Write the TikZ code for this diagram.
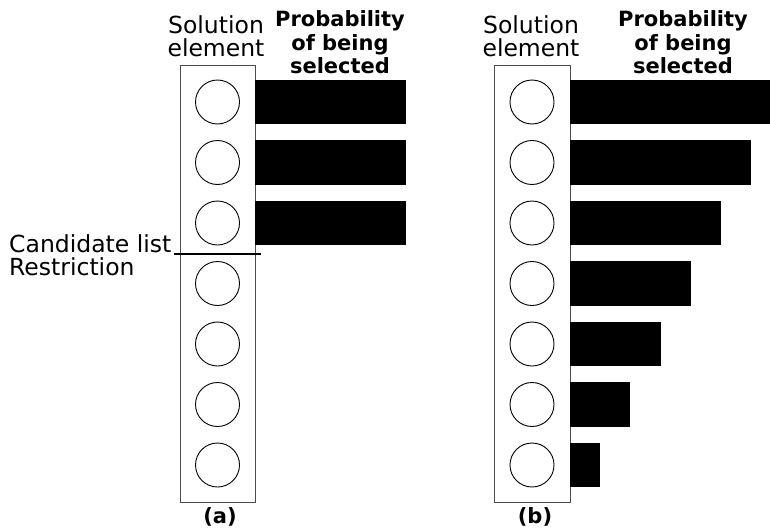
\documentclass[tikz,border=0pt]{standalone}
\usepackage{fontspec}
\setmainfont{DejaVu Sans}
\begin{document}
\begin{tikzpicture}[x=1pt,y=-1pt,
  txt/.style={inner sep=0pt,anchor=base,font=\fontsize{23.5}{25}\selectfont},
  ltxt/.style={inner sep=0pt,anchor=base west,font=\fontsize{23.5}{25}\selectfont},
  btxt/.style={inner sep=0pt,anchor=base,font=\fontsize{21}{23}\selectfont\bfseries},
  column/.style={draw=black!70,line width=1pt},
  elem/.style={draw=black,line width=0.9pt,circle,minimum size=44pt,inner sep=0pt},
  bar/.style={fill=black},
  cut/.style={draw=black,line width=2pt}]
\useasboundingbox (0,0) rectangle (770,527);
% column (a)
\draw[column] (180,65) rectangle (255,502);
\foreach \k in {0,...,6} {
  \node[elem] (a\k) at (217.5,{102+60.5*\k}) {};
}
\foreach \k in {0,1,2} {
  \fill[bar] (255,{102+60.5*\k-22.3}) rectangle (406,{102+60.5*\k+22.3});
}
\coordinate (cutL) at (174,254);
\coordinate (cutR) at (261,254);
\draw[cut] (cutL) -- (cutR);
\node[ltxt] (cl1) at (9,252) {Candidate list};
\node[ltxt] (cl2) at (9,275) {Restriction};
\node[txt] (sa1) at (216,33.5) {Solution};
\node[txt] (sa2) at (216,56.5) {element};
\node[btxt] (pa1) at (340,27) {Probability};
\node[btxt] (pa2) at (340,50) {of being};
\node[btxt] (pa3) at (340,73) {selected};
\node[btxt] (la) at (220,523) {(a)};
% column (b)
\draw[column] (494,65) rectangle (570,502);
\foreach \k in {0,...,6} {
  \node[elem] (b\k) at (532,{102+60.5*\k}) {};
}
\foreach \k/\w in {0/210,1/181,2/151,3/121,4/91,5/60,6/30} {
  \fill[bar] (570,{102+60.5*\k-22.3}) rectangle ({570+\w},{102+60.5*\k+22.3});
}
\node[txt] (sb1) at (531,33.5) {Solution};
\node[txt] (sb2) at (531,56.5) {element};
\node[btxt] (pb1) at (683,27) {Probability};
\node[btxt] (pb2) at (683,50) {of being};
\node[btxt] (pb3) at (683,73) {selected};
\node[btxt] (lb) at (535,523) {(b)};
\end{tikzpicture}
\end{document}
